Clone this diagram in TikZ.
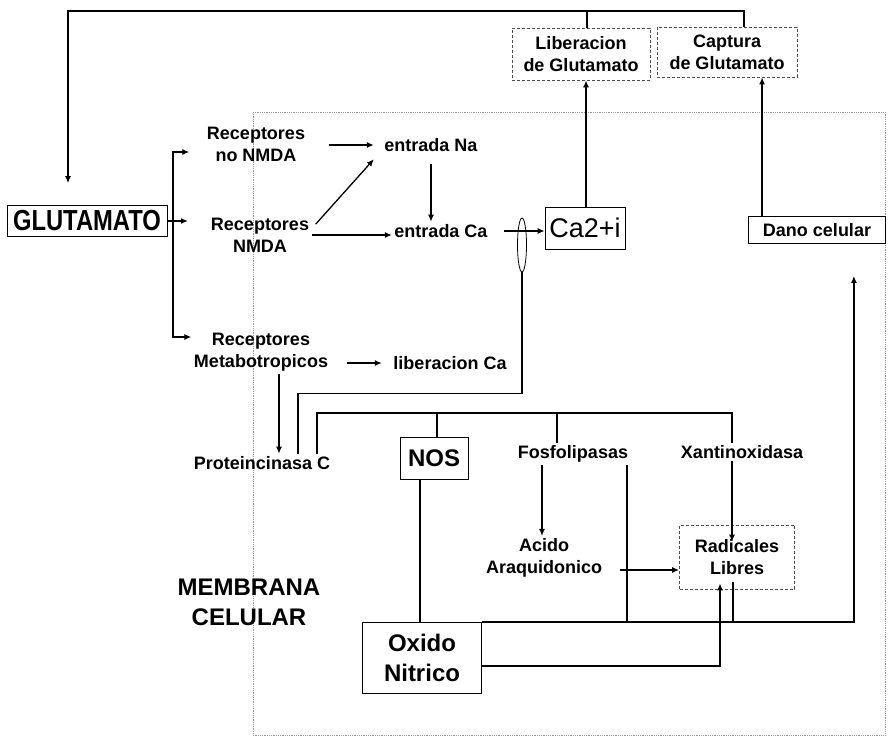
\documentclass[tikz,border=0pt]{standalone}
\usepackage{fontspec}
\setmainfont{Liberation Sans}
\newfontfamily\narrowsans[FakeStretch=0.82]{Liberation Sans}
\usetikzlibrary{arrows.meta,shapes.geometric}

\begin{document}
\begin{tikzpicture}[x=1pt,y=-1pt,line width=1.3pt,
  >={Latex[length=7pt,width=6pt]},
  lbl/.style={font=\bfseries\fontsize{18}{22}\selectfont,align=center,inner sep=2pt},
  big/.style={font=\bfseries\fontsize{24}{30}\selectfont,align=center},
  box/.style={draw,line width=0.8pt,inner sep=0pt,align=center},
  thinbox/.style={box,densely dashed,draw=black!70}]
  \useasboundingbox (0,0) rectangle (888,744);

  % membrana
  \draw[densely dotted,gray!80,line width=0.8pt] (253,112) rectangle (885,735);

  \node (glut) [box,font=\narrowsans\bfseries\fontsize{29}{30}\selectfont,minimum width=160,minimum height=31] at (87,221) {GLUTAMATO};
  \node (rnon) [lbl] at (256,144) {Receptores\\no NMDA};
  \node (rnmda) [lbl] at (260,235) {Receptores\\NMDA};
  \node (rmet) [lbl] at (261,352) {Receptores\\Metabotropicos};
  \node (ena) [lbl] at (431,145) {entrada Na};
  \node (eca) [lbl] at (441,231) {entrada Ca};
  \node (lca) [lbl] at (450,363) {liberacion Ca};
  \node (gate) [draw,ellipse,line width=0.8pt,minimum width=9,minimum height=54,inner sep=0pt] at (522,245) {};
  \node (ca) [box,font=\fontsize{27}{30}\selectfont,minimum width=80,minimum height=42] at (585,228) {Ca2+i};
  \node (lib) [thinbox,lbl,minimum width=138,minimum height=52] at (581,54) {Liberacion\\de Glutamato};
  \node (capt) [thinbox,lbl,minimum width=140,minimum height=50] at (727,52) {Captura\\de Glutamato};
  \node (dano) [box,lbl,minimum width=137,minimum height=27] at (817,230) {Dano celular};
  \node (pkc) [lbl] at (262,463) {Proteincinasa C};
  \node (nos) [box,big,minimum width=68,minimum height=42] at (434,458) {NOS};
  \node (fos) [lbl] at (573,454) {Fosfolipasas};
  \node (xan) [lbl] at (742,452) {Xantinoxidasa};
  \node (aa) [lbl] at (544,558) {Acido\\Araquidonico};
  \node (rad) [thinbox,lbl,minimum width=115,minimum height=64] at (737,557) {Radicales\\Libres};
  \node (on) [box,big,minimum width=119,minimum height=71] at (422,658) {Oxido\\Nitrico};
  \node (mem) [big] at (249,602) {MEMBRANA\\CELULAR};

  % retroalimentacion
  \coordinate (fbk) at (68,11);
  \draw[->] ([xshift=17pt]capt.north) |- (fbk) -- ([xshift=-19pt,yshift=22pt]glut.north);
  \draw ([xshift=6pt]lib.north) -- ([xshift=6pt]lib.north |- fbk);
  \draw[->] ([xshift=1pt]ca.north) -- ([xshift=1pt]ca.north |- lib.south);
  \draw[->] ([xshift=14pt]dano.north west) -- ([xshift=14pt]dano.north west |- capt.south);

  % receptores
  \coordinate (gfork) at (173,221);
  \draw[<->] ([xshift=-15pt,yshift=-8pt]rnon.west) -| (gfork) |- ([xshift=0pt,yshift=15pt]rmet.west);
  \draw[->] (glut.east) -- ([xshift=15pt]gfork);
  \draw[->] ([xshift=21pt]rnon.east |- ena.west) -- ([xshift=-8pt]ena.west);
  \draw[->] ([xshift=4pt,yshift=-9pt]rnmda.north east) -- ([xshift=-8pt,yshift=-5pt]ena.south west);
  \draw[->] (rnmda.east) -- (rnmda.east -| eca.west);
  \draw[->] ([yshift=-10pt]ena.south) -- (ena.south |- eca.north);
  \draw[->] ([xshift=14pt]eca.east) -- (ca.west |- eca.east);
  \draw[->] ([xshift=16pt]rmet.east |- lca.west) -- ([xshift=-9pt]lca.west);
  \draw[->] ([xshift=18pt]rmet.south) -- ([xshift=17pt]pkc.north);
  \draw ([xshift=36pt]pkc.north) -- ++(0,-60) -| (gate.south);

  % proteincinasa C
  \coordinate (pbar) at (317,413);
  \draw ([xshift=55pt]pkc.north) -- (pbar) -| ([xshift=-10pt]xan.north);
  \draw ([xshift=3pt]nos.north) -- ([xshift=3pt]nos.north |- pbar);
  \draw ([xshift=-16pt]fos.north) -- ([xshift=-16pt]fos.north |- pbar);
  \draw[->] ([xshift=-10pt]xan.south) -- ([xshift=-5pt,yshift=-17pt]rad.north);
  \draw ([xshift=-14pt]nos.south) -- ([xshift=-14pt]nos.south |- on.north);
  \draw[->] ([xshift=-31pt]fos.south) -- ([xshift=-2pt]aa.north);
  \draw[->] ([xshift=15pt,yshift=-12pt]aa.east) -- ([yshift=-13pt]rad.west);

  % dano celular
  \draw[->] (on.north east) -| ([xshift=-32pt,yshift=-32pt]dano.south east);
  \draw ([xshift=54pt]fos.south) -- ([xshift=54pt]fos.south |- on.north);
  \draw ([xshift=-4pt,yshift=7pt]rad.south) -- ([xshift=-4pt]rad.south |- on.north);
  \draw[->] ([yshift=-8pt]on.east) -| ([xshift=-17pt,yshift=6pt]rad.south);
\end{tikzpicture}
\end{document}
